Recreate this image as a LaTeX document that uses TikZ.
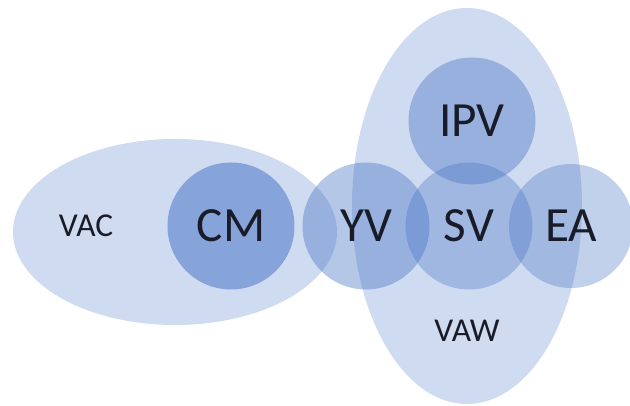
\documentclass[tikz,border=0pt]{standalone}
\usepackage{fontspec}
\setmainfont{Carlito}
\usepackage{xcolor}
\usepackage{tikz}
\usetikzlibrary{shapes.geometric, positioning}
\definecolor{SetBlue}{RGB}{68,114,196}
\definecolor{TextDark}{RGB}{25,28,40}
\tikzset{
  realm/.style={
    ellipse, draw=none, fill=SetBlue, fill opacity=0.26,
    inner sep=0pt
  },
  member/.style={
    circle, draw=none, fill=SetBlue, fill opacity=0.38,
    minimum size=2.54cm, inner sep=0pt,
    text opacity=1, text=TextDark,
    font=\fontsize{28}{30}\selectfont
  },
  tag/.style={
    rectangle, fill=white, fill opacity=0.03, text opacity=1,
    text=TextDark, inner sep=7pt,
    font=\fontsize{19}{21}\selectfont
  }
}

\begin{document}
\begin{tikzpicture}

  \useasboundingbox (0,0) rectangle (12.6,8.12);

  % ── Large domains ──
  \node[realm, minimum width=6.48cm, minimum height=3.72cm] (vac) at (3.50,3.48) {};
  \node[realm, minimum width=4.60cm, minimum height=7.92cm] (vaw) at (9.34,4.00) {};

  % ── Members ──
  \node[member, fill opacity=0.52] (cm)  at ( 4.62,3.60) {CM};
  \node[member, fill opacity=0.40] (yv)  at ( 7.32,3.60) {YV};
  \node[member, fill opacity=0.34] (sv)  at ( 9.38,3.60) {SV};
  \node[member, fill opacity=0.33, minimum size=2.48cm] (ea)  at (11.42,3.60) {EA};
  \node[member, fill opacity=0.40] (ipv) at ( 9.44,5.70) {IPV};

  % ── Domain labels ──
  \node[tag] (vaclbl) at (1.72,3.60) {VAC};
  \node[tag] (vawlbl) at (9.34,1.50) {VAW};

\end{tikzpicture}
\end{document}
